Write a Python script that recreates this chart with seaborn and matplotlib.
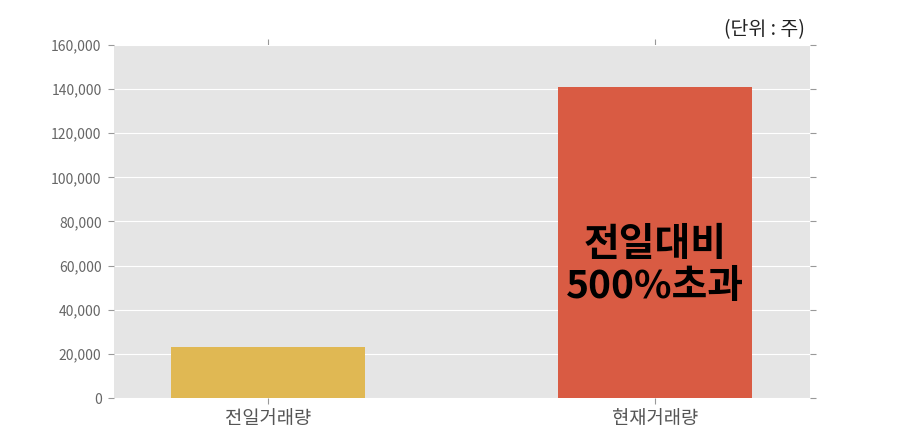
import pandas as pd
import matplotlib
matplotlib.use("Agg")
import matplotlib.pyplot as plt
import seaborn as sns
from matplotlib.ticker import FuncFormatter

# data
categories = ["전일거래량", "현재거래량"]
volumes = [23300, 141000]
bar_colors = ["#E0B853", "#D95B43"]
y_ticks = [0, 20000, 40000, 60000, 80000, 100000, 120000, 140000, 160000]
note_text = "전일대비\n500%초과"
unit_text = "(단위 : 주)"

df = pd.DataFrame({"구분": categories, "거래량": volumes})

sns.set_theme(style="darkgrid", rc={
    "axes.facecolor": "#E5E5E5",
    "grid.color": "white",
    "grid.linewidth": 0.8,
    "axes.edgecolor": "white",
})
plt.rcParams["font.family"] = ["Noto Sans CJK KR", "DejaVu Sans"]

fig = plt.figure(figsize=(9, 4.43), dpi=100)
ax = fig.add_axes([114 / 900, 1 - 398 / 443, 696 / 900, 353 / 443])

sns.barplot(data=df, x="구분", y="거래량", hue="구분",
            palette=dict(zip(categories, bar_colors)),
            width=0.5, saturation=1, legend=False, linewidth=0, ax=ax)

ax.set_xlim(-0.398, 1.40)
ax.set_ylim(0, 160000)
ax.set_yticks(y_ticks)
ax.yaxis.set_major_formatter(FuncFormatter(lambda v, p: f"{int(v):,}"))
ax.set_xlabel("")
ax.set_ylabel("")
for s in ax.spines.values():
    s.set_visible(False)

ax.tick_params(axis="y", which="both", left=True, right=True, length=4,
               width=0.8, color="#999999", labelsize=10, labelcolor="#666666", pad=5)
ax.tick_params(axis="x", which="both", bottom=True, top=True, length=4,
               width=0.8, color="#999999", labelsize=13.5, labelcolor="#555555", pad=3)

ax.text(1, 60000, note_text, ha="center", va="center", fontsize=28,
        fontweight="bold", color="black", linespacing=1.12)
fig.text(805 / 900, 1 - 30 / 443, unit_text, ha="right", va="center",
         fontsize=14, color="#222222")

fig.savefig("out.png", dpi=100)
